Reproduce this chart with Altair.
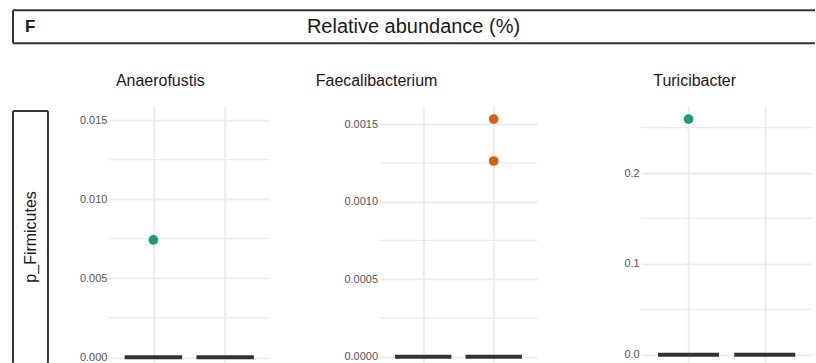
import altair as alt
import pandas as pd

# ---------------- data ----------------
groups = ["Group 1", "Group 2"]
group_colors = ["#1B9E77", "#D95F02"]
genera = ["Anaerofustis", "Faecalibacterium", "Turicibacter"]
phylum = "p_Firmicutes"
panel_letter = "F"
header_title = "Relative abundance (%)"

# median (box) values per group, per genus
anaerofustis_median = [0.0, 0.0]
faecali_median = [0.0, 0.0]
turici_median = [0.0, 0.0]

# outlier points
anaerofustis_pt_group = ["Group 1"]
anaerofustis_pt_value = [0.00742]
faecali_pt_group = ["Group 2", "Group 2"]
faecali_pt_value = [0.001532, 0.001262]
turici_pt_group = ["Group 1"]
turici_pt_value = [0.2593]

# axis ticks
anaerofustis_ticks = [0.0, 0.005, 0.010, 0.015]
anaerofustis_minor = [0.0025, 0.0075, 0.0125]
faecali_ticks = [0.0, 0.0005, 0.0010, 0.0015]
faecali_minor = [0.00025, 0.00075, 0.00125]
turici_ticks = [0.0, 0.1, 0.2]
turici_minor = [0.05, 0.15, 0.25]

# ---------------- style ----------------
FONT = "Liberation Sans"
GRID = "#EBEBEB"
PANEL_H = 257


def panel(title, med, pt_group, pt_value, ticks, minor, fmt, domain, width, dx):
    df_med = pd.DataFrame({"group": groups, "value": med})
    df_pts = pd.DataFrame({"group": pt_group, "value": pt_value})
    df_minor = pd.DataFrame({"value": minor})
    step = width / (1 + 2 * 0.62)
    xscale = alt.Scale(type="point", domain=groups, padding=0.62)
    yscale = alt.Scale(domain=domain, nice=False, zero=False)
    xaxis = alt.Axis(labels=False, ticks=False, domain=False, title=None,
                     grid=True, gridColor=GRID, gridWidth=1.8)
    yaxis = alt.Axis(values=ticks, format=fmt, grid=True, gridColor=GRID,
                     gridWidth=1.8, domain=False, ticks=False, labelPadding=2,
                     labelFont=FONT, labelFontSize=11, labelColor="#555555",
                     title=None)
    y = alt.Y("value:Q", scale=yscale, axis=yaxis)
    x = alt.X("group:N", scale=xscale, axis=xaxis)
    minor_layer = alt.Chart(df_minor).mark_rule(color=GRID, strokeWidth=1.3).encode(y=y)
    med_layer = alt.Chart(df_med).mark_tick(
        color="#333333", thickness=4, size=0.8 * step, opacity=1
    ).encode(x=x, y=y)
    pts_layer = alt.Chart(df_pts).mark_circle(size=95, opacity=1).encode(
        x=x, y=y,
        color=alt.Color("group:N", scale=alt.Scale(domain=groups, range=group_colors),
                        legend=None),
    )
    return alt.layer(minor_layer, med_layer, pts_layer).properties(
        width=width, height=PANEL_H,
        title=alt.TitleParams(title, font=FONT, fontSize=16, fontWeight="normal",
                              color="#1A1A1A", anchor="middle", offset=17, dx=dx),
    )


p1 = panel(genera[0], anaerofustis_median, anaerofustis_pt_group, anaerofustis_pt_value,
           anaerofustis_ticks, anaerofustis_minor, ".3f", [-0.000347, 0.015884], 161, -29)
p2 = panel(genera[1], faecali_median, faecali_pt_group, faecali_pt_value,
           faecali_ticks, faecali_minor, ".4f", [-0.0000386, 0.0016159], 158, -82)
p3 = panel(genera[2], turici_median, turici_pt_group, turici_pt_value,
           turici_ticks, turici_minor, ".1f", [-0.00879, 0.27363], 171, -32)

# header strip
df_head = pd.DataFrame({"letter": [panel_letter], "title": [header_title]})
HW, HH = 804, 35
hbase = alt.Chart(df_head)
head = alt.layer(
    hbase.mark_rule(color="#333333", strokeWidth=2).encode(
        x=alt.value(1), x2=alt.value(HW), y=alt.value(1)),
    hbase.mark_rule(color="#333333", strokeWidth=2).encode(
        x=alt.value(1), x2=alt.value(HW), y=alt.value(34)),
    hbase.mark_rule(color="#333333", strokeWidth=2).encode(
        x=alt.value(1), y=alt.value(1), y2=alt.value(34)),
    hbase.mark_text(font=FONT, fontSize=17, fontWeight="bold", align="left",
                    baseline="middle", color="#1A1A1A").encode(
        x=alt.value(13), y=alt.value(18), text="letter:N"),
    hbase.mark_text(font=FONT, fontSize=20, align="center", baseline="middle",
                    color="#1A1A1A").encode(
        x=alt.value(402), y=alt.value(18), text="title:N"),
).properties(width=HW, height=HH)

# row strip
df_row = pd.DataFrame({"label": [phylum]})
rbase = alt.Chart(df_row)
strip = alt.layer(
    rbase.mark_rule(color="#333333", strokeWidth=2).encode(
        x=alt.value(1), x2=alt.value(36), y=alt.value(5)),
    rbase.mark_rule(color="#333333", strokeWidth=2).encode(
        x=alt.value(1), y=alt.value(5), y2=alt.value(PANEL_H)),
    rbase.mark_rule(color="#333333", strokeWidth=2).encode(
        x=alt.value(36), y=alt.value(5), y2=alt.value(PANEL_H)),
    rbase.mark_text(font=FONT, fontSize=16, angle=270, align="center",
                    baseline="middle", color="#1A1A1A").encode(
        x=alt.value(19), y=alt.value(131), text="label:N"),
).properties(width=37, height=PANEL_H)


def spacer(w):
    return alt.Chart(df_row).mark_text(text="").encode(
        x=alt.value(0), y=alt.value(0)).properties(width=w, height=PANEL_H)


row = alt.hconcat(strip, spacer(60), p1, spacer(110), p2, spacer(104), p3,
                  spacing=0, bounds="flush")

chart = alt.vconcat(head, row, spacing=62, bounds="flush").properties(
    padding={"left": 12, "top": 9, "right": 0, "bottom": 0},
    background="white",
).configure_view(strokeWidth=0)

chart.save("out.html", embed_options={"renderer": "svg", "actions": False})
